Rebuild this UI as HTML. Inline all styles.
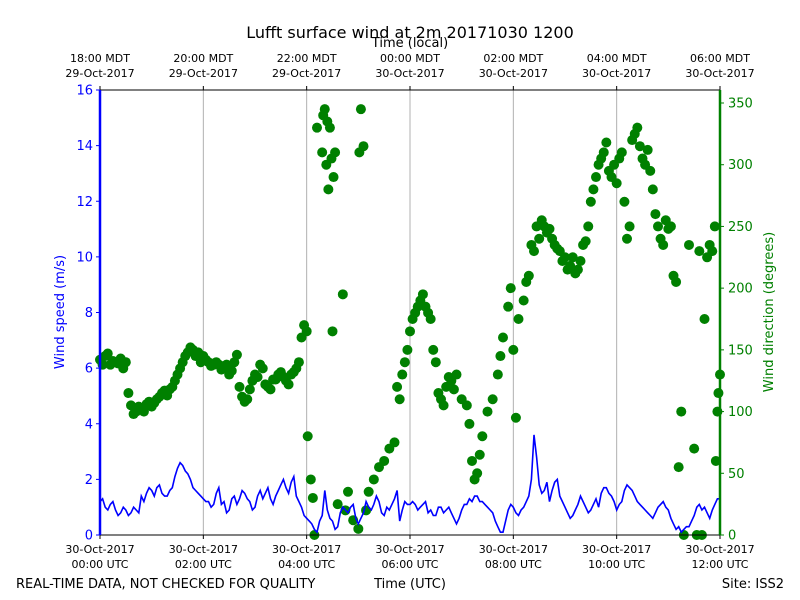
<!DOCTYPE html>
<html><head><meta charset="utf-8">
<style>
html,body{margin:0;padding:0;background:#fff;}
svg{display:block;font-family:"DejaVu Sans","Liberation Sans",sans-serif;}
</style></head>
<body>
<svg id="chart" width="800" height="600" viewBox="0 0 800 600">
<text x="410" y="38" font-size="16" text-anchor="middle">Lufft surface wind at 2m 20171030 1200</text>
<text x="410" y="47" font-size="13" text-anchor="middle">Time (local)</text>
<text x="16" y="588" font-size="13">REAL-TIME DATA, NOT CHECKED FOR QUALITY</text>
<text x="410" y="588" font-size="13" text-anchor="middle">Time (UTC)</text>
<text x="784" y="588" font-size="13" text-anchor="end">Site: ISS2</text>
<text transform="translate(64,312) rotate(-90)" font-size="13" fill="#0000ff" text-anchor="middle">Wind speed (m/s)</text>
<text transform="translate(773,312) rotate(-90)" font-size="13" fill="#008000" text-anchor="middle">Wind direction (degrees)</text>
<g id="grid"></g>
<g id="dirs"></g>
<g id="speed"></g>
<g id="axes"></g>
</svg>
<script>
const bottomTicks = [["30-Oct-2017","00:00 UTC"],["30-Oct-2017","02:00 UTC"],["30-Oct-2017","04:00 UTC"],["30-Oct-2017","06:00 UTC"],["30-Oct-2017","08:00 UTC"],["30-Oct-2017","10:00 UTC"],["30-Oct-2017","12:00 UTC"]];
const topTicks = [["18:00 MDT","29-Oct-2017"],["20:00 MDT","29-Oct-2017"],["22:00 MDT","29-Oct-2017"],["00:00 MDT","30-Oct-2017"],["02:00 MDT","30-Oct-2017"],["04:00 MDT","30-Oct-2017"],["06:00 MDT","30-Oct-2017"]];
const tickHours = [0,2,4,6,8,10,12];
const speedTicks = [0,2,4,6,8,10,12,14,16];
const dirTicks = [0,50,100,150,200,250,300,350];
const speedValues = [1.2,1.3,1.0,0.9,1.1,1.2,0.9,0.7,0.8,1.0,0.9,0.7,0.8,1.0,0.9,0.8,1.4,1.2,1.5,1.7,1.6,1.4,1.7,1.8,1.5,1.4,1.4,1.6,1.7,2.1,2.4,2.6,2.5,2.3,2.2,2.0,1.7,1.6,1.5,1.4,
1.3,1.2,1.2,1.0,1.1,1.5,1.7,1.1,1.2,0.8,0.9,1.3,1.4,1.1,1.3,1.6,1.5,1.3,1.2,0.9,1.0,1.4,1.6,1.3,1.5,1.7,1.3,1.1,1.4,1.6,1.8,2.0,1.7,1.5,1.9,2.1,1.4,1.2,1.0,0.7,
0.6,0.5,0.4,0.2,0.1,0.5,0.7,1.6,0.9,0.6,0.5,0.2,0.3,0.8,1.0,0.9,0.8,1.0,1.1,0.6,0.4,0.6,0.8,1.2,1.0,0.9,1.1,1.4,1.2,0.8,0.7,1.0,0.9,1.1,1.3,1.6,0.5,0.9,1.2,1.1,
1.1,1.2,1.1,0.9,1.0,1.1,1.2,0.8,0.9,0.7,0.7,1.0,1.0,0.8,0.9,1.0,0.8,0.6,0.4,0.6,0.9,1.1,1.1,1.3,1.2,1.4,1.4,1.2,1.2,1.1,1.0,0.9,0.8,0.5,0.3,0.1,0.1,0.5,0.9,1.1,
1.0,0.8,0.7,0.9,1.0,1.2,1.4,2.0,3.6,2.8,1.8,1.5,1.6,1.9,1.2,1.6,1.9,2.0,1.4,1.2,1.0,0.8,0.6,0.7,0.9,1.1,1.4,1.2,1.0,0.8,0.9,1.1,1.3,1.0,1.5,1.7,1.7,1.5,1.4,1.2,
0.9,1.1,1.2,1.6,1.8,1.7,1.6,1.4,1.2,1.1,1.0,0.9,0.8,0.7,0.6,0.8,1.0,1.1,1.2,1.0,0.9,0.6,0.4,0.2,0.3,0.1,0.2,0.3,0.3,0.5,0.7,1.0,1.1,0.9,1.0,0.8,0.6,0.9,1.1,1.3,1.3];
const dirTimes = [0,0.1,0.2,0.3,0.4,0.5,0.6,0.7,0.8,0.9,1.0,1.1,1.2,1.3,1.4,1.5,1.6,1.7,1.8,1.9,
2.0,2.1,2.2,2.3,2.4,2.5,2.6,2.7,2.8,2.9,3.0,3.1,3.2,3.3,3.4,3.5,3.6,3.7,3.8,3.9,4.0,4.02,
4.08,4.12,4.15,4.2,4.3,4.32,4.38,4.42,4.45,4.5,4.52,4.55,4.6,4.7,4.75,4.8,4.9,5.0,5.02,5.05,5.1,5.15,
5.2,5.3,5.4,5.5,5.6,5.7,5.8,5.85,5.9,6.0,6.1,6.2,6.3,6.4,6.5,6.6,6.7,6.8,6.9,7.0,7.1,7.15,7.2,7.25,7.3,7.35,
7.4,7.5,7.6,7.7,7.75,7.8,7.9,7.95,8.0,8.05,8.1,8.2,8.3,8.4,8.5,8.6,8.7,8.8,8.9,9.0,9.1,9.2,9.3,9.4,9.5,
9.6,9.7,9.8,9.9,10.0,10.1,10.15,10.2,10.3,10.4,10.5,10.6,10.7,10.8,10.9,11.0,11.1,11.15,11.2,11.25,11.3,11.4,
11.5,11.55,11.6,11.65,11.7,11.75,11.8,11.85,11.9,11.92,11.95,11.97,12.0,
0.05,0.15,0.25,0.35,0.45,0.55,0.65,0.75,0.85,0.95,1.05,1.15,1.25,1.35,1.45,1.55,1.65,1.75,1.85,1.95,
2.05,2.15,2.25,2.35,2.45,2.55,2.65,2.75,2.85,2.95,3.05,3.15,3.25,3.35,3.45,3.55,3.65,3.75,3.85,3.95,
5.75,5.95,6.05,6.15,6.25,6.35,6.45,6.55,6.65,6.75,6.85,4.35,4.4,4.48,
8.25,8.35,8.45,8.55,8.65,8.75,8.85,8.95,9.05,9.15,9.25,9.35,9.45,9.55,9.65,9.75,9.85,9.95,10.05,10.25,10.35,10.45,10.55,10.65,10.75,10.85,10.95,11.05];
const dirValues = [142,145,138,140,143,140,105,100,102,106,104,110,115,113,120,130,140,148,150,148,
145,140,138,138,135,130,140,120,108,118,130,138,122,118,126,132,125,130,135,160,165,80,
45,30,0,330,310,340,300,280,330,165,290,310,25,195,20,35,12,5,310,345,315,20,
35,45,55,60,70,75,110,130,140,165,180,190,185,175,140,110,120,125,130,110,105,90,60,45,50,65,
80,100,110,130,145,160,185,200,150,95,175,190,210,230,240,250,248,235,230,225,218,212,222,238,270,
290,305,318,290,285,310,270,240,320,330,305,312,280,250,235,248,210,205,55,100,0,235,
70,0,230,0,175,225,235,230,250,60,100,115,130,
138,147,141,139,135,115,98,104,100,108,107,112,117,118,125,135,145,152,145,140,
142,137,140,134,138,133,146,112,110,125,128,135,120,126,130,128,122,132,140,170,
120,150,175,185,195,180,150,115,105,128,118,345,335,305,
205,235,250,255,245,240,232,222,215,225,215,235,250,280,300,310,295,300,305,250,325,315,300,295,260,240,255,250];
const X0=100,X1=720,Y0=535,Y1=90;
const NS='http://www.w3.org/2000/svg';
function xScale(h){return X0+(X1-X0)*h/12;}
function ySpeed(v){return Y0-(Y0-Y1)*v/16;}
function yDirection(d){return Y0-d*(432/350);}
function el(tag,attrs,parent){const e=document.createElementNS(NS,tag);for(const k in attrs)e.setAttribute(k,attrs[k]);parent.appendChild(e);return e;}
const grid=document.getElementById('grid'),axes=document.getElementById('axes'),dirs=document.getElementById('dirs'),sp=document.getElementById('speed');
tickHours.forEach((h,i)=>{
  const x=xScale(h);
  if(i>0&&i<tickHours.length-1){const g=el('line',{x1:x,x2:x,y1:Y1,y2:Y0,stroke:'#b0b0b0','stroke-width':1},grid);
  
  }
  el('line',{x1:x,x2:x,y1:Y0,y2:Y0+4,stroke:'#000'},axes);
  el('line',{x1:x,x2:x,y1:Y1,y2:Y1-4,stroke:'#000'},axes);
  const t1=el('text',{x:x,y:553,'font-size':11,'text-anchor':'middle'},axes);t1.textContent=bottomTicks[i][0];
  
  
  const t2=el('text',{x:x,y:568,'font-size':11,'text-anchor':'middle'},axes);t2.textContent=bottomTicks[i][1];
  
  
  const t3=el('text',{x:x,y:62,'font-size':11,'text-anchor':'middle'},axes);t3.textContent=topTicks[i][0];
  
  
  const t4=el('text',{x:x,y:77,'font-size':11,'text-anchor':'middle'},axes);t4.textContent=topTicks[i][1];
  
  
});
dirTimes.forEach((t,i)=>{
  const c=el('circle',{cx:xScale(t),cy:yDirection(dirValues[i]),r:5,fill:'#008000'},dirs);
  
  
});
const pts=speedValues.map((v,i)=>xScale(i*12/(speedValues.length-1)).toFixed(1)+','+ySpeed(v).toFixed(1)).join(' ');
const pl=el('polyline',{points:pts,fill:'none',stroke:'#0000ff','stroke-width':1.6},sp);


el('line',{x1:X0,x2:X1,y1:Y1,y2:Y1,stroke:'#000'},axes);
el('line',{x1:X0,x2:X1,y1:Y0,y2:Y0,stroke:'#000'},axes);
const ls=el('line',{x1:X0,x2:X0,y1:Y1,y2:Y0,stroke:'#0000ff','stroke-width':2.5},axes);


const rs=el('line',{x1:X1,x2:X1,y1:Y1,y2:Y0,stroke:'#008000','stroke-width':2.5},axes);


speedTicks.forEach(v=>{
  const y=ySpeed(v);
  el('line',{x1:X0-4,x2:X0,y1:y,y2:y,stroke:'#0000ff'},axes);
  const t=el('text',{x:X0-7,y:y+4.5,'font-size':13,'text-anchor':'end',fill:'#0000ff'},axes);t.textContent=v;
  
  
});
dirTicks.forEach(d=>{
  const y=yDirection(d);
  el('line',{x1:X1,x2:X1+4,y1:y,y2:y,stroke:'#008000'},axes);
  const t=el('text',{x:X1+8,y:y+4.5,'font-size':13,fill:'#008000'},axes);t.textContent=d;
  
  
});
</script>
</body></html>
